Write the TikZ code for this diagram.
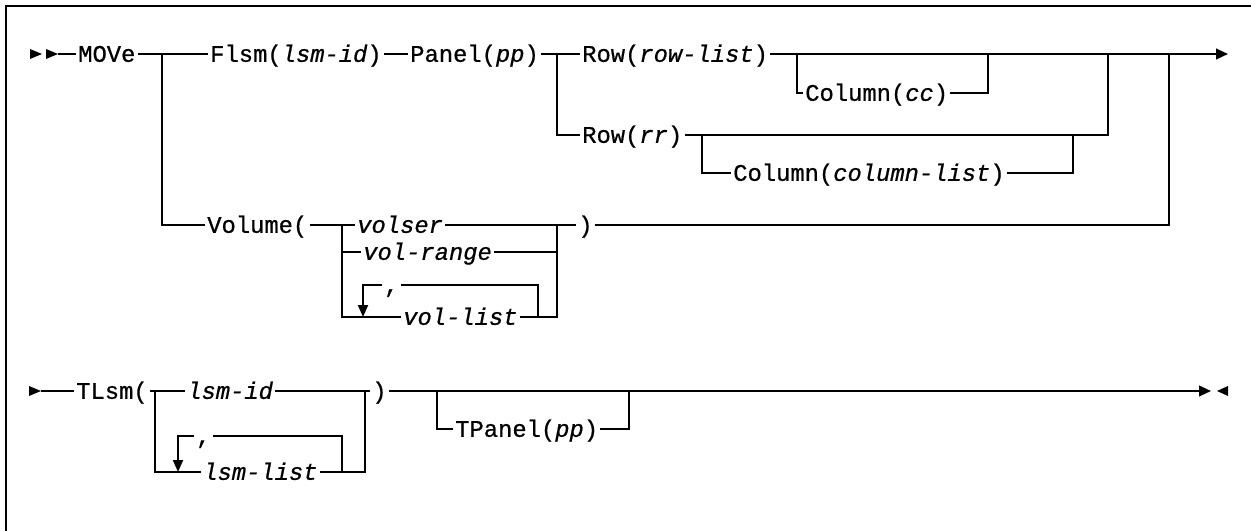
\documentclass[tikz,border=0pt]{standalone}
\usepackage{fontspec}
\usetikzlibrary{arrows.meta}
\newfontfamily\dmono[FakeBold=0.7]{Liberation Mono}
\tikzset{
  txt/.style={inner xsep=1.5pt, inner ysep=0pt, text height=11.7pt, text depth=0pt,
    anchor=west, font=\dmono\fontsize{17.85pt}{20pt}\selectfont},
  ln/.style={line width=1.5pt, line cap=butt, line join=miter},
  arr/.style={ln, -{Triangle[length=9pt,width=8pt]}},
  darr/.style={ln, -{Triangle[length=9pt,width=7.5pt]}},
  tri/.style={fill=black, draw=none}
}
\begin{document}
\begin{tikzpicture}[x=0.75pt,y=-0.75pt]
\useasboundingbox (0,0) rectangle (1251,531);
% frame
\draw[line width=1.8pt] (6,531) -- (6,6) -- (1251,6);

% ---------- first diagram ----------
\node[txt] (move) at (76,54) {MOVe};
\node[txt] (flsm) at (208,54) {Flsm(\textit{lsm-id})};
\node[txt] (panel) at (408,54) {Panel(\textit{pp})};
\node[txt] (rowlist) at (580,54) {Row(\textit{row-list})};
\node[txt] (colcc) at (803,93) {Column(\textit{cc})};
\node[txt] (rowrr) at (580,135) {Row(\textit{rr})};
\node[txt] (colcl) at (731,173) {Column(\textit{column-list})};
\node[txt] (volume) at (205,225) {Volume(};
\node[txt] (volser) at (355,225) {\textit{volser}};
\node[txt] (volrange) at (361,252) {\textit{vol-range}};
\node[txt] (comma1) at (382,285) {,};
\node[txt] (vollist) at (401,317) {\textit{vol-list}};
\node[txt] (rparen1) at (576,225) {)};

\coordinate (s1) at (58,54);
\coordinate (end1) at (1228,54);
\coordinate (b1) at (162,54);
\coordinate (b2) at (557,54);
\coordinate (b3) at (797,54);
\coordinate (j3) at (988,54);
\coordinate (j2) at (1108,54);
\coordinate (j1) at (1169,54);
\coordinate (b4) at (702,135);
\coordinate (j4) at (1073,135);
\coordinate (vtl) at (342,225);
\coordinate (vtr) at (557,225);
\coordinate (cla) at (363,317);
\coordinate (crb) at (538,317);

\fill[tri] (30,49) -- (42,54) -- (30,59) -- cycle;
\fill[tri] (46,49) -- (58,54) -- (46,59) -- cycle;
\draw[ln] (s1) -- (move.west);
\draw[ln] (move.east) -- (flsm.west);
\draw[ln] (flsm.east) -- (panel.west);
\draw[ln] (panel.east) -- (rowlist.west);
\draw[arr] (rowlist.east) -- (end1);
\draw[ln] (b1) |- (volume.west);
\draw[ln] (b2) |- (rowrr.west);
\draw[ln] (b3) |- (colcc.west);
\draw[ln] (colcc.east) -| (j3);
\draw[ln] (rowrr.east) -| (j2);
\draw[ln] (b4) |- (colcl.west);
\draw[ln] (colcl.east) -| (j4);
\draw[ln] (volume.east) -- (volser.west);
\draw[ln] (vtl) |- (volrange.west);
\draw[ln] (vtl) |- (vollist.west);
\draw[ln] (volser.east) -- (rparen1.west);
\draw[ln] (volrange.east) -| (vtr);
\draw[ln] (vollist.east) -| (vtr);
\draw[darr] (comma1.west) -| (cla);
\draw[ln] (comma1.east) -| (crb);
\draw[ln] (rparen1.east) -| (j1);

% ---------- second diagram ----------
\node[txt] (tlsm) at (74,391) {TLsm(};
\node[txt] (lsmid) at (185,391) {\textit{lsm-id}};
\node[txt] (rparen2) at (370,391) {)};
\node[txt] (comma2) at (194,436) {,};
\node[txt] (lsmlist) at (201,472) {\textit{lsm-list}};
\node[txt] (tpanel) at (453,429) {TPanel(\textit{pp})};

\coordinate (s2) at (41,391);
\coordinate (end2) at (1211,391);
\coordinate (tl) at (155,391);
\coordinate (tr) at (365,391);
\coordinate (cla2) at (178,472);
\coordinate (crb2) at (342,472);
\coordinate (tp1) at (437,391);
\coordinate (tp2) at (629,391);

\fill[tri] (29,386) -- (41,391) -- (29,396) -- cycle;
\draw[ln] (s2) -- (tlsm.west);
\draw[ln] (tlsm.east) -- (lsmid.west);
\draw[ln] (tl) |- (lsmlist.west);
\draw[ln] (lsmid.east) -- (rparen2.west);
\draw[ln] (lsmlist.east) -| (tr);
\draw[darr] (comma2.west) -| (cla2);
\draw[ln] (comma2.east) -| (crb2);
\draw[arr] (rparen2.east) -- (end2);
\draw[ln] (tp1) |- (tpanel.west);
\draw[ln] (tpanel.east) -| (tp2);
\fill[tri] (1228,386) -- (1217,391) -- (1228,396) -- cycle;
\end{tikzpicture}
\end{document}
